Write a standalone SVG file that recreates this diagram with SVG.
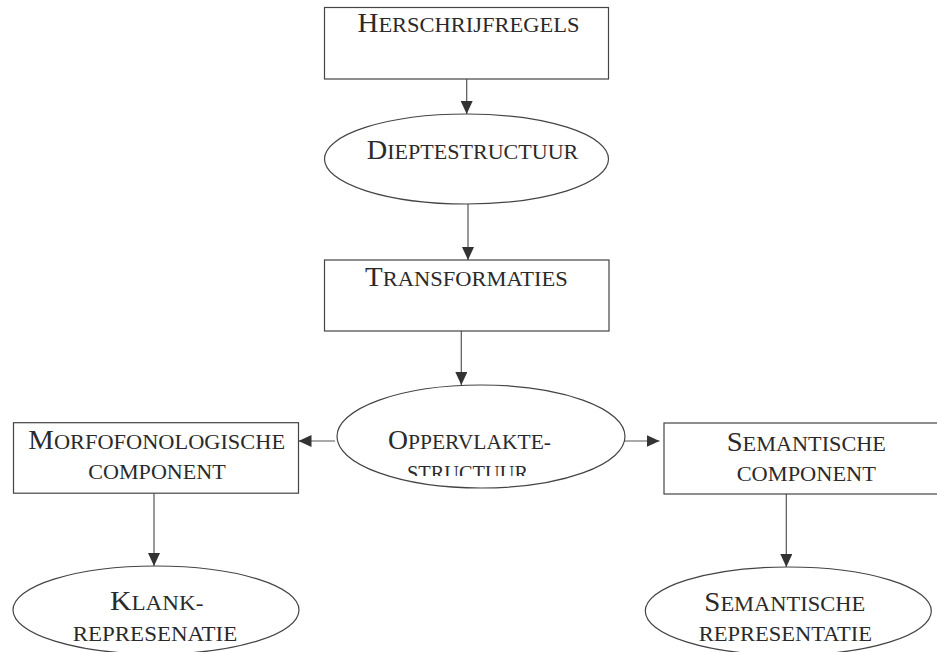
<svg xmlns="http://www.w3.org/2000/svg" width="937" height="652" viewBox="0 0 937 652">
<style>
.shape{fill:#fff;stroke:#444;stroke-width:1.2}
.conn{stroke:#555;stroke-width:1.2;fill:none;marker-end:url(#arr)}
text{font-family:"Liberation Serif","Times New Roman",serif;fill:#2a2a2a;text-anchor:middle}
.b{font-size:27px}
.s{font-size:21px}
</style>
<defs>
<marker id="arr" markerUnits="userSpaceOnUse" markerWidth="14" markerHeight="12" refX="13" refY="6" orient="auto">
<path d="M0,0 L13,6 L0,12 Z" fill="#333"/>
</marker>
<clipPath id="clipOpp"><rect x="330" y="380" width="300" height="96"/></clipPath>
</defs>
<rect width="937" height="652" fill="#fff"/>
<g id="connectors">
<line class="conn" x1="466.7" y1="79" x2="466.7" y2="114"/>
<line class="conn" x1="468" y1="204" x2="468" y2="260"/>
<line class="conn" x1="461.3" y1="331" x2="461.3" y2="385"/>
<line class="conn" x1="335" y1="441" x2="298.5" y2="441"/>
<line class="conn" x1="623" y1="441" x2="659.5" y2="441"/>
<line class="conn" x1="154" y1="493" x2="154" y2="566"/>
<line class="conn" x1="786.3" y1="494" x2="786.3" y2="567"/>
</g>
<g id="herschrijfregels">
<rect class="shape" x="324.5" y="7.5" width="284" height="71.5"/>
<text x="468.5" y="32" textLength="222" lengthAdjust="spacingAndGlyphs"><tspan class="b">H</tspan><tspan class="s">ERSCHRIJFREGELS</tspan></text>
</g>
<g id="dieptestructuur">
<ellipse class="shape" cx="466.5" cy="159" rx="142" ry="45"/>
<text x="472.5" y="158.5" textLength="211.6" lengthAdjust="spacingAndGlyphs"><tspan class="b">D</tspan><tspan class="s">IEPTESTRUCTUUR</tspan></text>
</g>
<g id="transformaties">
<rect class="shape" x="324.5" y="260" width="284.5" height="71"/>
<text x="466.4" y="285.5" textLength="202.7" lengthAdjust="spacingAndGlyphs"><tspan class="b">T</tspan><tspan class="s">RANSFORMATIES</tspan></text>
</g>
<g id="oppervlaktestructuur">
<ellipse class="shape" cx="481" cy="436.5" rx="144" ry="51.5"/>
<g clip-path="url(#clipOpp)">
<text x="469.5" y="448.5" textLength="163" lengthAdjust="spacingAndGlyphs"><tspan class="b">O</tspan><tspan class="s">PPERVLAKTE-</tspan></text>
<text class="s" x="467.5" y="479.5" textLength="121" lengthAdjust="spacingAndGlyphs">STRUCTUUR</text>
</g>
</g>
<g id="morfofonologische">
<rect class="shape" x="13.5" y="422.7" width="285" height="70.5"/>
<text x="156.7" y="449.3" textLength="256.7" lengthAdjust="spacingAndGlyphs"><tspan class="b">M</tspan><tspan class="s">ORFOFONOLOGISCHE</tspan></text>
<text class="s" x="157" y="479" textLength="137.5" lengthAdjust="spacingAndGlyphs">COMPONENT</text>
</g>
<g id="semantische-component">
<rect class="shape" x="664" y="423" width="284" height="71"/>
<text x="806.3" y="450.7" textLength="159.3" lengthAdjust="spacingAndGlyphs"><tspan class="b">S</tspan><tspan class="s">EMANTISCHE</tspan></text>
<text class="s" x="806.3" y="480.5" textLength="139.3" lengthAdjust="spacingAndGlyphs">COMPONENT</text>
</g>
<g id="klankrepresentatie">
<ellipse class="shape" cx="156" cy="610" rx="143" ry="44"/>
<text x="156.7" y="610" textLength="93.3" lengthAdjust="spacingAndGlyphs"><tspan class="b">K</tspan><tspan class="s">LANK-</tspan></text>
<text class="s" x="155" y="640.7" textLength="164.6" lengthAdjust="spacingAndGlyphs">REPRESENATIE</text>
</g>
<g id="semantische-representatie">
<ellipse class="shape" cx="788.3" cy="611" rx="143" ry="44"/>
<text x="784.8" y="610.7" textLength="161" lengthAdjust="spacingAndGlyphs"><tspan class="b">S</tspan><tspan class="s">EMANTISCHE</tspan></text>
<text class="s" x="785.3" y="640.7" textLength="173.3" lengthAdjust="spacingAndGlyphs">REPRESENTATIE</text>
</g>
</svg>
